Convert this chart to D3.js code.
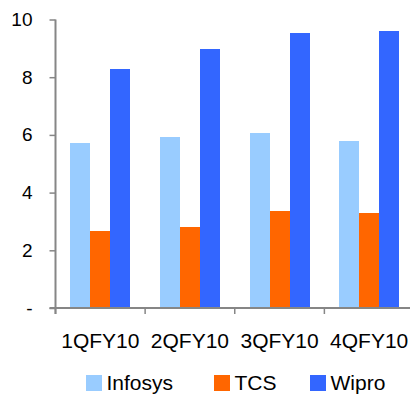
<!DOCTYPE html>
<html>
<head>
<meta charset="utf-8">
<script src="https://cdn.jsdelivr.net/npm/d3@7"></script>
<style>
  html, body { margin: 0; padding: 0; background: #fff; }
  svg { display: block; font-family: "Liberation Sans", Arial, sans-serif; }
</style>
</head>
<body>
<svg id="chart" width="410" height="394"></svg>
<script>
// Quarterly figures per company
const categories = ["1QFY10", "2QFY10", "3QFY10", "4QFY10"];
const seriesNames = ["Infosys", "TCS", "Wipro"];
const infosys = [5.71, 5.92, 6.06, 5.78];
const tcs = [2.66, 2.80, 3.35, 3.28];
const wipro = [8.28, 8.98, 9.53, 9.60];
const yTicks = [0, 2, 4, 6, 8, 10];
const yTickLabels = ["-", "2", "4", "6", "8", "10"];
const colors = ["#99CCFF", "#FF6600", "#3366FF"];

const seriesValues = [infosys, tcs, wipro];
const rows = categories.map((c, i) => ({
  category: c,
  values: seriesNames.map((s, j) => ({ series: s, value: seriesValues[j][i] }))
}));

const svg = d3.select("#chart");
const plotLeft = 55.5, plotRight = 414, plotTop = 19.5, plotBottom = 308;

const x0 = d3.scaleBand().domain(categories).range([plotLeft, plotRight])
  .paddingInner(0.33).paddingOuter(0.165);
const x1 = d3.scaleBand().domain(seriesNames).range([0, x0.bandwidth()]);
const y = d3.scaleLinear().domain([0, 10]).range([plotBottom, plotTop]);
const color = d3.scaleOrdinal().domain(seriesNames).range(colors);

// Bars
svg.append("g").selectAll("g").data(rows).join("g")
  .attr("transform", d => `translate(${x0(d.category)},0)`)
  .selectAll("rect").data(d => d.values).join("rect")
  .attr("x", d => x1(d.series))
  .attr("width", x1.bandwidth())
  .attr("y", d => y(d.value))
  .attr("height", d => y(0) - y(d.value))
  .attr("fill", d => color(d.series))
  .attr("shape-rendering", "crispEdges");

const axisColor = "#868686";

// Y axis
const yAxis = svg.append("g")
  .attr("transform", `translate(${plotLeft},0)`)
  .call(d3.axisLeft(y).tickValues(yTicks)
    .tickFormat((d, i) => yTickLabels[i]).tickSizeInner(6).tickSizeOuter(0).tickPadding(17));
yAxis.select(".domain").attr("stroke", axisColor).attr("stroke-width", 2)
  .attr("d", `M0,${plotTop}V${plotBottom + 6}`);
yAxis.selectAll(".tick line").attr("stroke", axisColor).attr("stroke-width", 1.5);
yAxis.selectAll(".tick text").attr("font-size", 19).attr("fill", "#000")
  .attr("font-family", "Liberation Sans, Arial, sans-serif");

// X axis with ticks on category boundaries
const step = x0.step();
const boundaries = categories.map(c => x0(c) - x0.paddingOuter() * step);
const xAxis = svg.append("g");
xAxis.append("line")
  .attr("x1", plotLeft - 6).attr("x2", 410)
  .attr("y1", plotBottom).attr("y2", plotBottom)
  .attr("stroke", axisColor).attr("stroke-width", 2);
xAxis.selectAll("line.b").data(boundaries).join("line").attr("class", "b")
  .attr("x1", d => d).attr("x2", d => d)
  .attr("y1", plotBottom).attr("y2", plotBottom + 6)
  .attr("stroke", axisColor).attr("stroke-width", 1.5);
xAxis.selectAll("text").data(categories).join("text")
  .attr("x", d => x0(d) + x0.bandwidth() / 2)
  .attr("y", 347.5)
  .attr("text-anchor", "middle")
  .attr("font-size", 21)
  .attr("fill", "#000")
  .text(d => d);

// Legend
const legendX = [86, 214, 310];
const legend = svg.append("g").selectAll("g").data(seriesNames).join("g")
  .attr("transform", (d, i) => `translate(${legendX[i]},375)`);
legend.append("rect").attr("width", 16).attr("height", 16)
  .attr("fill", d => color(d));
legend.append("text").attr("x", 20.5).attr("y", 15)
  .attr("font-size", 21).attr("fill", "#000").text(d => d);
</script>
</body>
</html>
